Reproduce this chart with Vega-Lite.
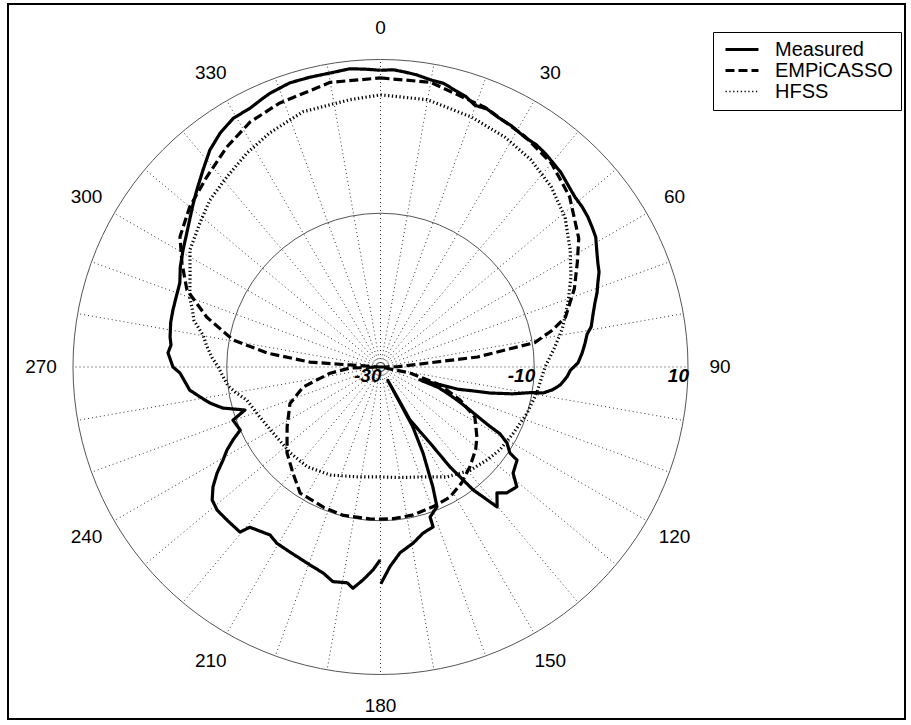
{
  "$schema": "https://vega.github.io/schema/vega-lite/v6.json",
  "width": 897,
  "height": 715,
  "autosize": {"type": "none"},
  "padding": {"left": 8, "top": 4, "right": 6, "bottom": 6},
  "background": "white",
  "config": {"view": {"stroke": "black", "strokeWidth": 2}, "font": "Liberation Sans"},
  "datasets": {
    "curves": [
        {"series":"Measured","part":"a","angle":0,"db":8.6},{"series":"Measured","part":"a","angle":2.5,"db":8.7},{"series":"Measured","part":"a","angle":4.7,"db":8.5},{"series":"Measured","part":"a","angle":7,"db":8.3},{"series":"Measured","part":"a","angle":10,"db":7.9},{"series":"Measured","part":"a","angle":12.5,"db":7.8},{"series":"Measured","part":"a","angle":15,"db":7.3},{"series":"Measured","part":"a","angle":17.5,"db":6.9},{"series":"Measured","part":"a","angle":19.8,"db":6.2},{"series":"Measured","part":"a","angle":22.5,"db":6.3},{"series":"Measured","part":"a","angle":25.2,"db":5.9},{"series":"Measured","part":"a","angle":28.5,"db":5.7},{"series":"Measured","part":"a","angle":32.1,"db":5.3},{"series":"Measured","part":"a","angle":35,"db":5.3},{"series":"Measured","part":"a","angle":37.5,"db":5.1},{"series":"Measured","part":"a","angle":40,"db":4.8},{"series":"Measured","part":"a","angle":42.9,"db":4.5},{"series":"Measured","part":"a","angle":45.8,"db":4.0},{"series":"Measured","part":"a","angle":48.8,"db":3.6},{"series":"Measured","part":"a","angle":51.5,"db":3.5},{"series":"Measured","part":"a","angle":54.1,"db":3.3},{"series":"Measured","part":"a","angle":56.5,"db":3.0},{"series":"Measured","part":"a","angle":58.9,"db":2.7},{"series":"Measured","part":"a","angle":61.5,"db":2.0},{"series":"Measured","part":"a","angle":64.4,"db":1.35},{"series":"Measured","part":"a","angle":66.5,"db":1.0},{"series":"Measured","part":"a","angle":68.9,"db":0.3},{"series":"Measured","part":"a","angle":71,"db":-0.2},{"series":"Measured","part":"a","angle":73.4,"db":-0.9},{"series":"Measured","part":"a","angle":76,"db":-1.5},{"series":"Measured","part":"a","angle":79.2,"db":-2.1},{"series":"Measured","part":"a","angle":81,"db":-2.8},{"series":"Measured","part":"a","angle":83.3,"db":-3.2},{"series":"Measured","part":"a","angle":86,"db":-3.7},{"series":"Measured","part":"a","angle":88.8,"db":-4.3},{"series":"Measured","part":"a","angle":91,"db":-5.3},{"series":"Measured","part":"a","angle":93,"db":-5.7},{"series":"Measured","part":"a","angle":95.7,"db":-6.5},{"series":"Measured","part":"a","angle":97.5,"db":-7.4},{"series":"Measured","part":"a","angle":99.1,"db":-8.6},{"series":"Measured","part":"a","angle":99.5,"db":-9.9},{"series":"Measured","part":"a","angle":101.5,"db":-12.5},{"series":"Measured","part":"a","angle":103.4,"db":-15.4},{"series":"Measured","part":"a","angle":104.5,"db":-17.6},{"series":"Measured","part":"a","angle":106,"db":-19.5},{"series":"Measured","part":"a","angle":108,"db":-24.6},{"series":"Measured","part":"a","angle":109.5,"db":-22.0},{"series":"Measured","part":"a","angle":111.4,"db":-20.7},{"series":"Measured","part":"a","angle":113.3,"db":-19.2},{"series":"Measured","part":"a","angle":115.7,"db":-17.1},{"series":"Measured","part":"a","angle":117.5,"db":-15.2},{"series":"Measured","part":"a","angle":118.5,"db":-13.8},{"series":"Measured","part":"a","angle":119.2,"db":-12.2},{"series":"Measured","part":"a","angle":121,"db":-10.8},{"series":"Measured","part":"a","angle":123.6,"db":-9.8},{"series":"Measured","part":"a","angle":124.3,"db":-8.5},{"series":"Measured","part":"a","angle":128.7,"db":-7.9},{"series":"Measured","part":"a","angle":131.3,"db":-6.4},{"series":"Measured","part":"a","angle":134.9,"db":-6.8},{"series":"Measured","part":"a","angle":137.2,"db":-7.7},{"series":"Measured","part":"a","angle":140.2,"db":-6.3},{"series":"Measured","part":"a","angle":143,"db":-10.0},{"series":"Measured","part":"a","angle":145.2,"db":-14.2},{"series":"Measured","part":"a","angle":146.9,"db":-18.2},{"series":"Measured","part":"a","angle":150.9,"db":-22.1},{"series":"Measured","part":"a","angle":151.3,"db":-28.0},{"series":"Measured","part":"a","angle":151.6,"db":-21.2},{"series":"Measured","part":"a","angle":153.7,"db":-17.5},{"series":"Measured","part":"a","angle":156.4,"db":-13.0},{"series":"Measured","part":"a","angle":158,"db":-10.4},{"series":"Measured","part":"a","angle":161.7,"db":-9.45},{"series":"Measured","part":"a","angle":161.8,"db":-8.1},{"series":"Measured","part":"a","angle":165.6,"db":-7.7},{"series":"Measured","part":"a","angle":169.5,"db":-6.7},{"series":"Measured","part":"a","angle":174,"db":-5.7},{"series":"Measured","part":"a","angle":177.3,"db":-4.0},{"series":"Measured","part":"a","angle":179.9,"db":-1.8},
        {"series":"Measured","part":"b","angle":180.1,"db":-4.9},{"series":"Measured","part":"b","angle":182.1,"db":-3.6},{"series":"Measured","part":"b","angle":184.7,"db":-2.2},{"series":"Measured","part":"b","angle":187.1,"db":-1.0},{"series":"Measured","part":"b","angle":188.8,"db":-1.6},{"series":"Measured","part":"b","angle":192.5,"db":-1.4},{"series":"Measured","part":"b","angle":195.6,"db":-2.2},{"series":"Measured","part":"b","angle":198.6,"db":-2.55},{"series":"Measured","part":"b","angle":201.9,"db":-2.9},{"series":"Measured","part":"b","angle":206.1,"db":-3.2},{"series":"Measured","part":"b","angle":210.5,"db":-3.4},{"series":"Measured","part":"b","angle":213.3,"db":-3.85},{"series":"Measured","part":"b","angle":219.2,"db":-3.1},{"series":"Measured","part":"b","angle":220.4,"db":-1.8},{"series":"Measured","part":"b","angle":225.1,"db":-1.8},{"series":"Measured","part":"b","angle":228.8,"db":-1.75},{"series":"Measured","part":"b","angle":231.7,"db":-2.1},{"series":"Measured","part":"b","angle":234.4,"db":-3.2},{"series":"Measured","part":"b","angle":237,"db":-4.65},{"series":"Measured","part":"b","angle":239.4,"db":-6.2},{"series":"Measured","part":"b","angle":241.6,"db":-7.3},{"series":"Measured","part":"b","angle":243.7,"db":-8.6},{"series":"Measured","part":"b","angle":245.8,"db":-10.0},{"series":"Measured","part":"b","angle":250.2,"db":-9.6},{"series":"Measured","part":"b","angle":252.4,"db":-11.5},{"series":"Measured","part":"b","angle":255.4,"db":-8.8},{"series":"Measured","part":"b","angle":258.1,"db":-7.3},{"series":"Measured","part":"b","angle":260.6,"db":-6.2},{"series":"Measured","part":"b","angle":263.1,"db":-5.0},{"series":"Measured","part":"b","angle":268.3,"db":-3.9},{"series":"Measured","part":"b","angle":270,"db":-3.0},{"series":"Measured","part":"b","angle":273.8,"db":-2.3},{"series":"Measured","part":"b","angle":276,"db":-2.6},{"series":"Measured","part":"b","angle":278.1,"db":-2.35},{"series":"Measured","part":"b","angle":282,"db":-2.1},{"series":"Measured","part":"b","angle":285.4,"db":-2.0},{"series":"Measured","part":"b","angle":289,"db":-1.9},{"series":"Measured","part":"b","angle":292.7,"db":-1.7},{"series":"Measured","part":"b","angle":296.5,"db":-0.9},{"series":"Measured","part":"b","angle":300.6,"db":-0.15},{"series":"Measured","part":"b","angle":304.5,"db":0.6},{"series":"Measured","part":"b","angle":308.2,"db":1.5},{"series":"Measured","part":"b","angle":311,"db":2.3},{"series":"Measured","part":"b","angle":314,"db":3.2},{"series":"Measured","part":"b","angle":318,"db":4.5},{"series":"Measured","part":"b","angle":321.8,"db":5.9},{"series":"Measured","part":"b","angle":325.6,"db":6.9},{"series":"Measured","part":"b","angle":329.4,"db":7.6},{"series":"Measured","part":"b","angle":333.3,"db":7.7},{"series":"Measured","part":"b","angle":336,"db":8.1},{"series":"Measured","part":"b","angle":338,"db":8.4},{"series":"Measured","part":"b","angle":342.3,"db":8.8},{"series":"Measured","part":"b","angle":346.3,"db":8.8},{"series":"Measured","part":"b","angle":350.3,"db":8.8},{"series":"Measured","part":"b","angle":354.1,"db":9.0},{"series":"Measured","part":"b","angle":357,"db":8.8},{"series":"Measured","part":"b","angle":360,"db":8.6},
        {"series":"EMPiCASSO","part":"a","angle":0,"db":7.6},{"series":"EMPiCASSO","part":"a","angle":10,"db":7.6},{"series":"EMPiCASSO","part":"a","angle":22,"db":6.4},{"series":"EMPiCASSO","part":"a","angle":32,"db":5.4},{"series":"EMPiCASSO","part":"a","angle":40,"db":4.6},{"series":"EMPiCASSO","part":"a","angle":48,"db":3.1},{"series":"EMPiCASSO","part":"a","angle":57,"db":0.75},{"series":"EMPiCASSO","part":"a","angle":62,"db":-1.0},{"series":"EMPiCASSO","part":"a","angle":68,"db":-2.8},{"series":"EMPiCASSO","part":"a","angle":75,"db":-5.1},{"series":"EMPiCASSO","part":"a","angle":78,"db":-7.2},{"series":"EMPiCASSO","part":"a","angle":81,"db":-9.7},{"series":"EMPiCASSO","part":"a","angle":84.1,"db":-17.3},{"series":"EMPiCASSO","part":"a","angle":85.2,"db":-23.8},{"series":"EMPiCASSO","part":"a","angle":89,"db":-27.7},{"series":"EMPiCASSO","part":"a","angle":90,"db":-30},{"series":"EMPiCASSO","part":"a","angle":101.5,"db":-26.1},{"series":"EMPiCASSO","part":"a","angle":106.8,"db":-21.9},{"series":"EMPiCASSO","part":"a","angle":112.5,"db":-18.8},{"series":"EMPiCASSO","part":"a","angle":118,"db":-16.1},{"series":"EMPiCASSO","part":"a","angle":126,"db":-14.5},{"series":"EMPiCASSO","part":"a","angle":131,"db":-13.6},{"series":"EMPiCASSO","part":"a","angle":138,"db":-12.6},{"series":"EMPiCASSO","part":"a","angle":145,"db":-11.6},{"series":"EMPiCASSO","part":"a","angle":152,"db":-10.8},{"series":"EMPiCASSO","part":"a","angle":159,"db":-10.6},{"series":"EMPiCASSO","part":"a","angle":167.5,"db":-10.3},{"series":"EMPiCASSO","part":"a","angle":175,"db":-10.2},{"series":"EMPiCASSO","part":"a","angle":180,"db":-10.2},{"series":"EMPiCASSO","part":"a","angle":184,"db":-10.2},{"series":"EMPiCASSO","part":"a","angle":194,"db":-10.1},{"series":"EMPiCASSO","part":"a","angle":202,"db":-10.3},{"series":"EMPiCASSO","part":"a","angle":212.5,"db":-10.55},{"series":"EMPiCASSO","part":"a","angle":219.5,"db":-12.1},{"series":"EMPiCASSO","part":"a","angle":227.5,"db":-13.5},{"series":"EMPiCASSO","part":"a","angle":237.5,"db":-15.6},{"series":"EMPiCASSO","part":"a","angle":248,"db":-17.3},{"series":"EMPiCASSO","part":"a","angle":255.5,"db":-19.6},{"series":"EMPiCASSO","part":"a","angle":263,"db":-23.4},{"series":"EMPiCASSO","part":"a","angle":268,"db":-26},{"series":"EMPiCASSO","part":"a","angle":270,"db":-30},{"series":"EMPiCASSO","part":"a","angle":273.8,"db":-26},{"series":"EMPiCASSO","part":"a","angle":274,"db":-20.8},{"series":"EMPiCASSO","part":"a","angle":277,"db":-15.2},{"series":"EMPiCASSO","part":"a","angle":280.4,"db":-10.5},{"series":"EMPiCASSO","part":"a","angle":286,"db":-6.5},{"series":"EMPiCASSO","part":"a","angle":291.7,"db":-2.9},{"series":"EMPiCASSO","part":"a","angle":297.6,"db":-0.86},{"series":"EMPiCASSO","part":"a","angle":303,"db":1.1},{"series":"EMPiCASSO","part":"a","angle":310,"db":2.4},{"series":"EMPiCASSO","part":"a","angle":317.6,"db":3.5},{"series":"EMPiCASSO","part":"a","angle":325,"db":4.9},{"series":"EMPiCASSO","part":"a","angle":332,"db":6.1},{"series":"EMPiCASSO","part":"a","angle":339,"db":6.75},{"series":"EMPiCASSO","part":"a","angle":350,"db":7.6},{"series":"EMPiCASSO","part":"a","angle":360,"db":7.6},
        {"series":"HFSS","part":"a","angle":0,"db":5.4},{"series":"HFSS","part":"a","angle":10,"db":5.3},{"series":"HFSS","part":"a","angle":20,"db":4.6},{"series":"HFSS","part":"a","angle":28.4,"db":4.0},{"series":"HFSS","part":"a","angle":36,"db":3.3},{"series":"HFSS","part":"a","angle":43.4,"db":2.3},{"series":"HFSS","part":"a","angle":51,"db":0.9},{"series":"HFSS","part":"a","angle":58.3,"db":-1.0},{"series":"HFSS","part":"a","angle":64.7,"db":-2.6},{"series":"HFSS","part":"a","angle":71,"db":-4.2},{"series":"HFSS","part":"a","angle":78,"db":-5.8},{"series":"HFSS","part":"a","angle":84,"db":-7.3},{"series":"HFSS","part":"a","angle":90,"db":-8.6},{"series":"HFSS","part":"a","angle":99.4,"db":-9.4},{"series":"HFSS","part":"a","angle":107.4,"db":-10.0},{"series":"HFSS","part":"a","angle":116.5,"db":-10.7},{"series":"HFSS","part":"a","angle":124.8,"db":-11.1},{"series":"HFSS","part":"a","angle":131,"db":-11.6},{"series":"HFSS","part":"a","angle":139,"db":-12.2},{"series":"HFSS","part":"a","angle":148.8,"db":-13.3},{"series":"HFSS","part":"a","angle":160.2,"db":-14.8},{"series":"HFSS","part":"a","angle":170,"db":-15.4},{"series":"HFSS","part":"a","angle":180,"db":-15.7},{"series":"HFSS","part":"a","angle":192,"db":-15.4},{"series":"HFSS","part":"a","angle":205,"db":-14.5},{"series":"HFSS","part":"a","angle":216.3,"db":-13.9},{"series":"HFSS","part":"a","angle":226.5,"db":-13.8},{"series":"HFSS","part":"a","angle":238.5,"db":-13.6},{"series":"HFSS","part":"a","angle":247.5,"db":-13.0},{"series":"HFSS","part":"a","angle":256,"db":-12.1},{"series":"HFSS","part":"a","angle":260,"db":-10.9},{"series":"HFSS","part":"a","angle":263,"db":-10.0},{"series":"HFSS","part":"a","angle":267,"db":-9.4},{"series":"HFSS","part":"a","angle":270,"db":-8.9},{"series":"HFSS","part":"a","angle":273,"db":-8.1},{"series":"HFSS","part":"a","angle":277,"db":-7.2},{"series":"HFSS","part":"a","angle":280,"db":-6.6},{"series":"HFSS","part":"a","angle":284,"db":-5.0},{"series":"HFSS","part":"a","angle":287,"db":-4.4},{"series":"HFSS","part":"a","angle":290,"db":-3.6},{"series":"HFSS","part":"a","angle":295.3,"db":-2.6},{"series":"HFSS","part":"a","angle":301.6,"db":-0.9},{"series":"HFSS","part":"a","angle":308.6,"db":0.05},{"series":"HFSS","part":"a","angle":314.4,"db":1.05},{"series":"HFSS","part":"a","angle":321.1,"db":1.8},{"series":"HFSS","part":"a","angle":328,"db":2.8},{"series":"HFSS","part":"a","angle":334.7,"db":3.7},{"series":"HFSS","part":"a","angle":343.1,"db":4.7},{"series":"HFSS","part":"a","angle":353.5,"db":5.0},{"series":"HFSS","part":"a","angle":360,"db":5.4}
    ]
  },
  "layer": [
    {
      "data": {"values": [{"angle":0},{"angle":10},{"angle":20},{"angle":30},{"angle":40},{"angle":50},{"angle":60},{"angle":70},{"angle":80},{"angle":90},{"angle":100},{"angle":110},{"angle":120},{"angle":130},{"angle":140},{"angle":150},{"angle":160},{"angle":170},{"angle":180},{"angle":190},{"angle":200},{"angle":210},{"angle":220},{"angle":230},{"angle":240},{"angle":250},{"angle":260},{"angle":270},{"angle":280},{"angle":290},{"angle":300},{"angle":310},{"angle":320},{"angle":330},{"angle":340},{"angle":350}]},
      "transform": [
        {"calculate": "0", "as": "cx"},
        {"calculate": "0", "as": "cy"},
        {"calculate": "sin(datum.angle*PI/180)", "as": "ex"},
        {"calculate": "cos(datum.angle*PI/180)", "as": "ey"}
      ],
      "mark": {"type": "rule", "stroke": "#333333", "strokeWidth": 1, "strokeDash": [1, 3]},
      "encoding": {
        "x": {"field": "cx", "type": "quantitative", "scale": {"domain": [-1.21138, 1.70569], "nice": false, "zero": false}, "axis": null},
        "y": {"field": "cy", "type": "quantitative", "scale": {"domain": [-1.14472, 1.18049], "nice": false, "zero": false}, "axis": null},
        "x2": {"field": "ex"},
        "y2": {"field": "ey"}
      }
    },
    {
      "data": {"values": [{"db": -10}, {"db": 10}]},
      "transform": [
        {"calculate": "0", "as": "cx"},
        {"calculate": "0", "as": "cy"}
      ],
      "mark": {"type": "point", "shape": "circle", "filled": false, "stroke": "#555555", "strokeWidth": 1, "opacity": 1},
      "encoding": {
        "x": {"field": "cx", "type": "quantitative", "scale": {"domain": [-1.21138, 1.70569], "nice": false, "zero": false}, "axis": null},
        "y": {"field": "cy", "type": "quantitative", "scale": {"domain": [-1.14472, 1.18049], "nice": false, "zero": false}, "axis": null},
        "size": {"field": "db", "type": "quantitative", "scale": {"type": "linear", "domain": [-10, 10], "range": [94556, 378225], "zero": false}, "legend": null}
      }
    },
    {
      "data": {"name": "curves"},
      "transform": [
        {"window": [{"op": "row_number", "as": "idx"}]},
        {"calculate": "max(0, (datum.db+30)/40)", "as": "rn"},
        {"calculate": "datum.rn*sin(datum.angle*PI/180)", "as": "px"},
        {"calculate": "datum.rn*cos(datum.angle*PI/180)", "as": "py"}
      ],
      "mark": {"type": "line", "color": "black", "strokeWidth": 3.2, "strokeJoin": "round", "strokeCap": "butt"},
      "encoding": {
        "x": {"field": "px", "type": "quantitative", "scale": {"domain": [-1.21138, 1.70569], "nice": false, "zero": false}, "axis": null},
        "y": {"field": "py", "type": "quantitative", "scale": {"domain": [-1.14472, 1.18049], "nice": false, "zero": false}, "axis": null},
        "order": {"field": "idx", "type": "quantitative"},
        "detail": {"field": "part", "type": "nominal"},
        "strokeDash": {
          "field": "series", "type": "nominal",
          "scale": {"domain": ["Measured", "EMPiCASSO", "HFSS"], "range": [[1, 0], [9, 4], [1.3, 2.5]]},
          "legend": {
            "orient": "none", "legendX": 705, "legendY": 28, "title": null,
            "strokeColor": "black", "fillColor": "white", "padding": 8,
            "symbolType": "stroke", "symbolSize": 1089, "symbolStrokeColor": "black", "symbolStrokeWidth": 3,
            "symbolOffset": 11, "labelFont": "Liberation Sans", "labelFontSize": 20, "labelColor": "black",
            "labelOffset": 23, "rowPadding": 0, "clipHeight": 19,
            "encode": {"symbols": {"update": {"strokeWidth": {"signal": "datum.value === 'HFSS' ? 1.5 : 3"}}}}
          }
        }
      }
    },
    {
      "data": {"values": [{"angle":0,"label":"0"},{"angle":30,"label":"30"},{"angle":60,"label":"60"},{"angle":90,"label":"90"},{"angle":120,"label":"120"},{"angle":150,"label":"150"},{"angle":180,"label":"180"},{"angle":210,"label":"210"},{"angle":240,"label":"240"},{"angle":270,"label":"270"},{"angle":300,"label":"300"},{"angle":330,"label":"330"}]},
      "transform": [
        {"calculate": "1.104*sin(datum.angle*PI/180)", "as": "px"},
        {"calculate": "1.104*cos(datum.angle*PI/180)", "as": "py"}
      ],
      "mark": {"type": "text", "font": "Liberation Sans", "fontSize": 19, "align": "center", "baseline": "middle", "color": "black"},
      "encoding": {
        "x": {"field": "px", "type": "quantitative", "scale": {"domain": [-1.21138, 1.70569], "nice": false, "zero": false}, "axis": null},
        "y": {"field": "py", "type": "quantitative", "scale": {"domain": [-1.14472, 1.18049], "nice": false, "zero": false}, "axis": null},
        "text": {"field": "label"}
      }
    },
    {
      "data": {"values": [{"db": -30, "label": "-30"}, {"db": -10, "label": "-10"}, {"db": 10, "label": "10"}]},
      "transform": [
        {"calculate": "(datum.db+30)/40", "as": "px"},
        {"calculate": "0", "as": "py"}
      ],
      "mark": {"type": "text", "font": "Liberation Sans", "fontSize": 19, "fontWeight": "bold", "fontStyle": "italic", "align": "right", "baseline": "middle", "dy": 9, "dx": 1, "color": "black"},
      "encoding": {
        "x": {"field": "px", "type": "quantitative", "scale": {"domain": [-1.21138, 1.70569], "nice": false, "zero": false}, "axis": null},
        "y": {"field": "py", "type": "quantitative", "scale": {"domain": [-1.14472, 1.18049], "nice": false, "zero": false}, "axis": null},
        "text": {"field": "label"}
      }
    }
  ]
}
